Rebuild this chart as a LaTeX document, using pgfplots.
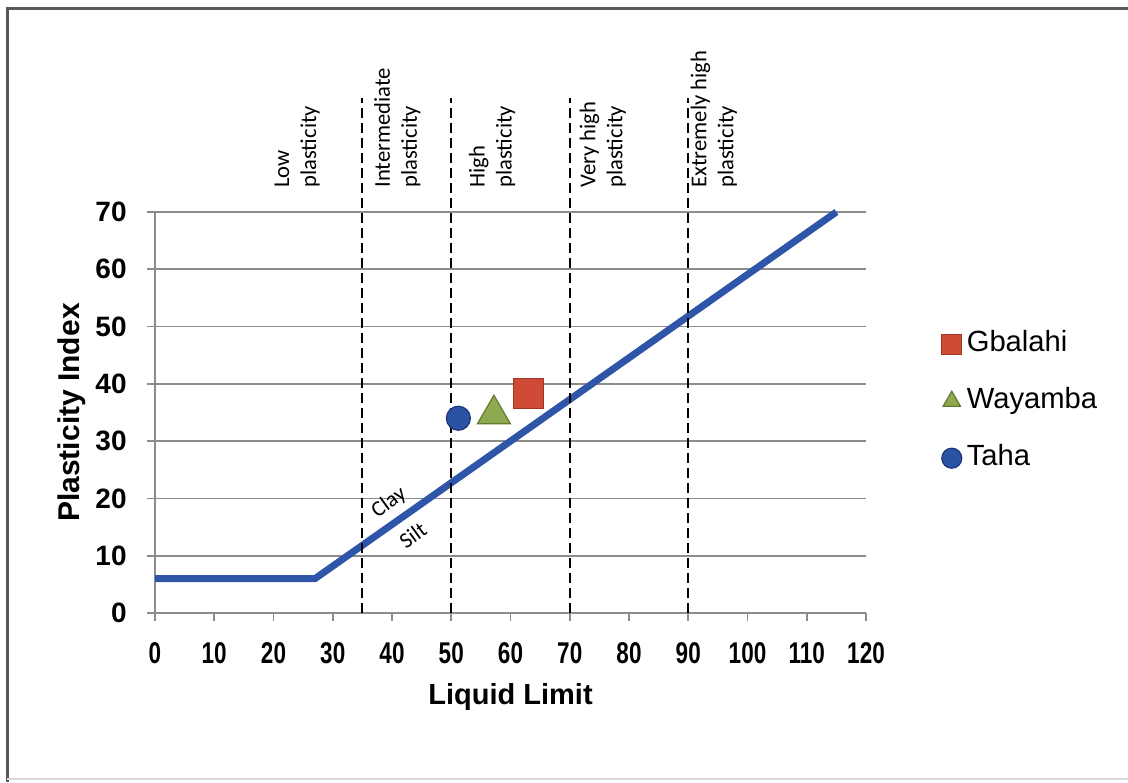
\documentclass[border=0pt]{standalone}
\usepackage{fontspec}
\setmainfont{Liberation Sans}
\newfontfamily\calibri{Carlito}
\newfontfamily\narrowfont[FakeStretch=0.75]{Liberation Sans}
\usepackage{pgfplots}
\pgfplotsset{compat=1.18}
\definecolor{aline}{HTML}{2F55A8}
\definecolor{sqfill}{HTML}{CF4B36}
\definecolor{sqdraw}{HTML}{9E3424}
\definecolor{trfill}{HTML}{8DAA4E}
\definecolor{trdraw}{HTML}{637A34}
\definecolor{cifill}{HTML}{2C52A3}
\definecolor{cidraw}{HTML}{1C3775}
\begin{document}
\begin{tikzpicture}
\useasboundingbox (0,0) rectangle (564pt,391pt);
\draw[line width=1.5pt, color=black!65] (3.5pt,0pt) -- (3.5pt,386.5pt) -- (564pt,386.5pt);
\draw[line width=0.8pt, black!15] (3.5pt,1.5pt) -- (564pt,1.5pt);
\begin{axis}[
  at={(77.5pt,84.5pt)}, anchor=south west,
  scale only axis, width=355.5pt, height=200.5pt,
  xmin=0, xmax=120, ymin=0, ymax=70,
  xtick={0,10,...,120}, ytick={0,10,...,70},
  axis x line*=bottom, axis y line*=left,
  axis line style={black!45, line width=0.8pt},
  tick align=outside, major tick length=4pt,
  tick style={black!45, line width=0.8pt},
  ymajorgrids, grid style={black!45, line width=0.8pt},
  clip=false,
  /pgf/number format/assume math mode=true,
  xticklabel style={font=\narrowfont\bfseries\fontsize{15}{15}\selectfont, inner sep=0pt, anchor=north, yshift=-10.5pt},
  yticklabel style={font=\bfseries\fontsize{14}{14}\selectfont, inner sep=0pt, anchor=east, xshift=-10pt},
  xlabel={Liquid Limit},
  ylabel={Plasticity Index},
  xlabel style={font=\bfseries\fontsize{14.5}{14.5}\selectfont, at={(axis description cs:0.5,-0.229)}, anchor=base},
  ylabel style={font=\bfseries\fontsize{15}{15}\selectfont, at={(axis description cs:-0.1055,0.5)}, anchor=base, rotate=0},
  legend style={draw=none, fill=none, inner sep=0pt, at={(axis description cs:1.106,0.705)}, anchor=north west,
    font=\fontsize{14.6}{14.6}\selectfont, row sep=15pt, column sep=2.5pt,
    nodes={inner sep=0pt, text height=10.5pt, text depth=3pt}},
  legend cell align=left,
  legend image code/.code={\draw[#1, mark size=5pt] plot coordinates {(5pt,0pt)};},
]
% A-line
\addplot[aline, line width=3.5pt, forget plot] coordinates {(0,6) (27,6) (115,70)};
% plasticity boundaries
\addplot[black, line width=1pt, dash pattern=on 5pt off 2.5pt, forget plot] coordinates {(35,0) (35,89.9)};
\addplot[black, line width=1pt, dash pattern=on 5pt off 2.5pt, forget plot] coordinates {(50,0) (50,89.9)};
\addplot[black, line width=1pt, dash pattern=on 5pt off 2.5pt, forget plot] coordinates {(70,0) (70,89.9)};
\addplot[black, line width=1pt, dash pattern=on 5pt off 2.5pt, forget plot] coordinates {(90,0) (90,89.9)};
% samples
\addplot[only marks, mark=square*, mark size=7.5pt, mark options={fill=sqfill, draw=sqdraw, line width=0.6pt}] coordinates {(63.0,38.3)};
\addlegendentry{Gbalahi}
\addplot[only marks, mark=triangle*, mark size=9.5pt, mark options={fill=trfill, draw=trdraw, line width=0.6pt}] coordinates {(57.2,34.7)};
\addlegendentry{Wayamba}
\addplot[only marks, mark=*, mark size=6pt, mark options={fill=cifill, draw=cidraw, line width=0.6pt}] coordinates {(51.2,34.0)};
\addlegendentry{Taha}
% labels
\begin{scope}[every node/.style={font=\calibri\fontsize{11.3}{13.5}\selectfont, rotate=90, anchor=west, align=left, inner sep=0pt}]
\node at (axis cs:24.0,74.2) {Low\\plasticity};
\node at (axis cs:40.9,74.2) {Intermediate\\plasticity};
\node at (axis cs:56.9,74.2) {High\\plasticity};
\node at (axis cs:75.6,74.2) {Very high\\plasticity};
\node at (axis cs:94.3,74.2) {Extremely high\\plasticity};
\end{scope}
\node[font=\calibri\fontsize{11}{11}\selectfont, rotate=36, inner sep=0pt] at (axis cs:39.5,19.2) {Clay};
\node[font=\calibri\fontsize{11}{11}\selectfont, rotate=36, inner sep=0pt] at (axis cs:43.5,13.6) {Silt};
\end{axis}
\end{tikzpicture}
\end{document}
